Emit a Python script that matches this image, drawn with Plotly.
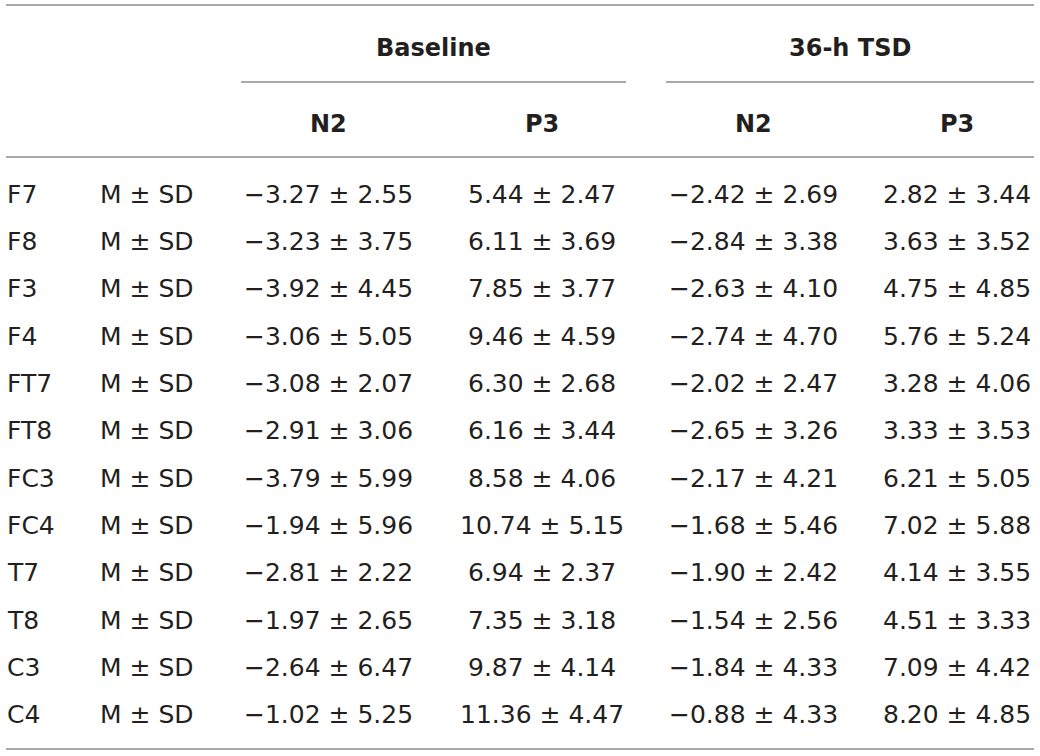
import plotly.graph_objects as go

# ---- data ----
electrodes = ["F7", "F8", "F3", "F4", "FT7", "FT8", "FC3", "FC4", "T7", "T8", "C3", "C4"]
stat_label = "M ± SD"
groups = ["Baseline", "36-h TSD"]
components = ["N2", "P3", "N2", "P3"]

baseline_n2_mean = [-3.27, -3.23, -3.92, -3.06, -3.08, -2.91, -3.79, -1.94, -2.81, -1.97, -2.64, -1.02]
baseline_n2_sd   = [2.55, 3.75, 4.45, 5.05, 2.07, 3.06, 5.99, 5.96, 2.22, 2.65, 6.47, 5.25]
baseline_p3_mean = [5.44, 6.11, 7.85, 9.46, 6.30, 6.16, 8.58, 10.74, 6.94, 7.35, 9.87, 11.36]
baseline_p3_sd   = [2.47, 3.69, 3.77, 4.59, 2.68, 3.44, 4.06, 5.15, 2.37, 3.18, 4.14, 4.47]
tsd_n2_mean = [-2.42, -2.84, -2.63, -2.74, -2.02, -2.65, -2.17, -1.68, -1.90, -1.54, -1.84, -0.88]
tsd_n2_sd   = [2.69, 3.38, 4.10, 4.70, 2.47, 3.26, 4.21, 5.46, 2.42, 2.56, 4.33, 4.33]
tsd_p3_mean = [2.82, 3.63, 4.75, 5.76, 3.28, 3.33, 6.21, 7.02, 4.14, 4.51, 7.09, 8.20]
tsd_p3_sd   = [3.44, 3.52, 4.85, 5.24, 4.06, 3.53, 5.05, 5.88, 3.55, 3.33, 4.42, 4.85]

value_columns = [
    (baseline_n2_mean, baseline_n2_sd),
    (baseline_p3_mean, baseline_p3_sd),
    (tsd_n2_mean, tsd_n2_sd),
    (tsd_p3_mean, tsd_p3_sd),
]

# ---- layout constants (styling) ----
W, H = 1040, 756
ROW0_PX, ROW_PX = 194.0, 47.36
def ypx(p):
    return (p - ROW0_PX) / ROW_PX

FONT = "DejaVu Sans"
TXT = "#231f20"
LINE = "#8c8c8c"
FS = 25

col_label_x = 5
col_stat_x = 98
col_centers = [328, 542, 753, 957]
group_centers = [433, 850]
group_spans = [(241, 626), (666, 1034)]
table_left, table_right = 6, 1034

def fmt(v):
    return f"{v:.2f}".replace("-", "\u2212")

annotations = []
for i, e in enumerate(electrodes):
    annotations.append(dict(x=col_label_x, y=i, text=e, xanchor="left", yanchor="middle",
                            showarrow=False, font=dict(family=FONT, size=FS, color=TXT)))
    annotations.append(dict(x=col_stat_x, y=i, text=stat_label, xanchor="left", yanchor="middle",
                            showarrow=False, font=dict(family=FONT, size=FS, color=TXT)))
    for c, (m, s) in enumerate(value_columns):
        annotations.append(dict(x=col_centers[c], y=i, text=f"{fmt(m[i])} ± {fmt(s[i])}",
                                xanchor="center", yanchor="middle", showarrow=False,
                                font=dict(family=FONT, size=FS, color=TXT)))

for g, name in enumerate(groups):
    annotations.append(dict(x=group_centers[g], y=ypx(48), text=name, xanchor="center",
                            yanchor="middle", showarrow=False,
                            font=dict(family=FONT, size=24, color=TXT, weight="bold")))
for c, name in enumerate(components):
    annotations.append(dict(x=col_centers[c], y=ypx(124), text=name, xanchor="center",
                            yanchor="middle", showarrow=False,
                            font=dict(family=FONT, size=24, color=TXT, weight="bold")))

shapes = []
def hline(x0, x1, y):
    shapes.append(dict(type="line", xref="x", yref="y", x0=x0, x1=x1, y0=y, y1=y,
                       line=dict(color=LINE, width=1.5)))

hline(table_left, table_right, ypx(5))
for a, b in group_spans:
    hline(a, b, ypx(82))
hline(table_left, table_right, ypx(157))
hline(table_left, table_right, ypx(749))

fig = go.Figure()
fig.add_trace(go.Scatter(x=[0], y=[0], mode="markers", marker=dict(opacity=0),
                         hoverinfo="skip", showlegend=False))
fig.update_layout(
    width=W, height=H,
    margin=dict(l=0, r=0, t=0, b=0),
    paper_bgcolor="white", plot_bgcolor="white",
    xaxis=dict(range=[0, W], visible=False, fixedrange=True),
    yaxis=dict(range=[ypx(H), ypx(0)], visible=False, fixedrange=True),
    annotations=annotations, shapes=shapes, showlegend=False,
)
fig.write_html(
    "out.html",
    config={"displayModeBar": False},
    post_script="document.body.style.margin='0';document.body.style.overflow='hidden';",
)
